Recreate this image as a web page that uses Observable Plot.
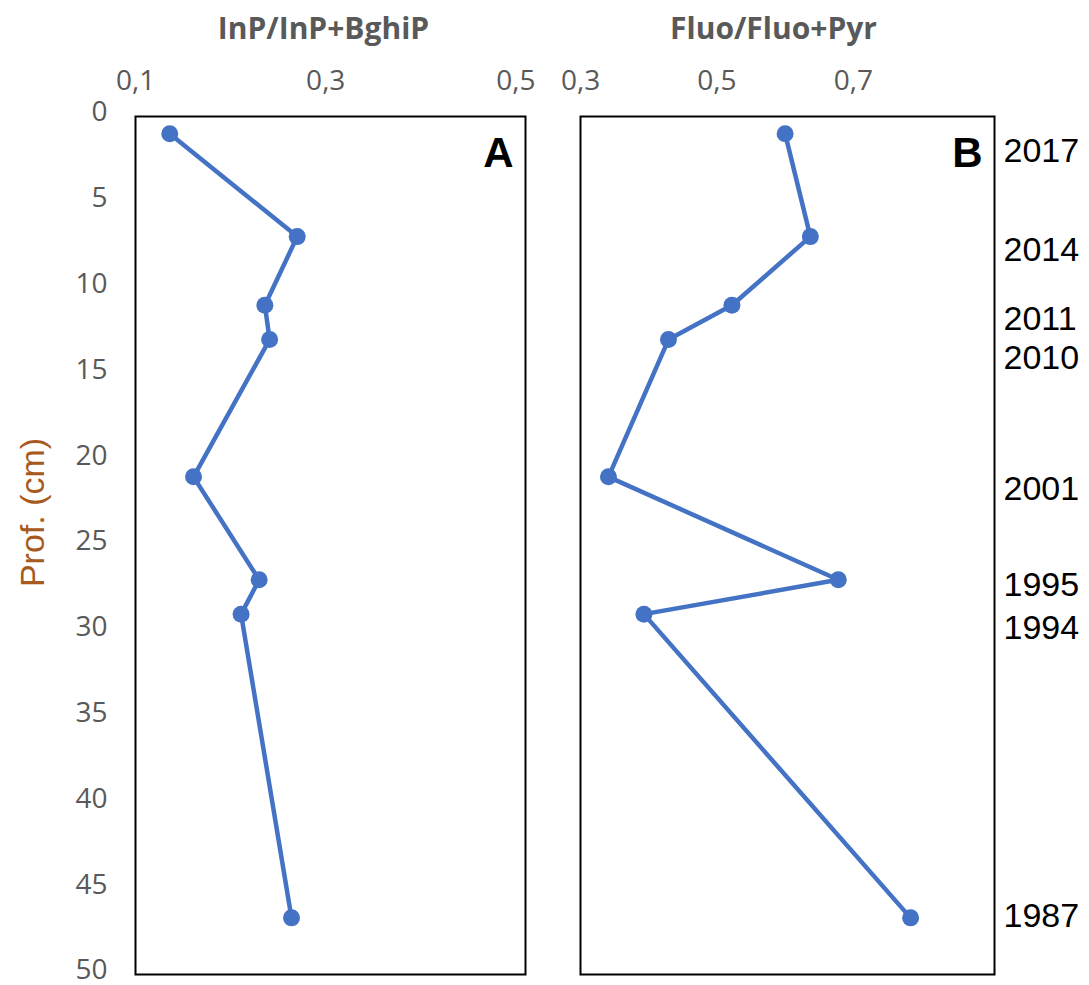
<!DOCTYPE html>
<html><head><meta charset="utf-8">
<script src="https://cdn.jsdelivr.net/npm/d3@7"></script>
<script src="https://cdn.jsdelivr.net/npm/@observablehq/plot@0.6"></script>
<style>
body{margin:0;background:#fff;}
#chart{position:relative;width:1089px;height:985px;background:#fff;}
#chart svg{position:absolute;top:0;}
</style></head><body><div id="chart"></div>
<script>
// ---- data ----
const depth = [1, 7, 11, 13, 21, 27, 29, 46.7];
const inpRatio = [0.136, 0.270, 0.236, 0.241, 0.161, 0.230, 0.211, 0.264];
const fluoRatio = [0.600, 0.637, 0.522, 0.429, 0.341, 0.678, 0.393, 0.784];
const years = ["2017", "2014", "2011", "2010", "2001", "1995", "1994", "1987"];
const yearDepth = [2.0, 7.8, 11.8, 14.1, 21.7, 27.3, 29.8, 46.6];
const depthTicks = [0, 5, 10, 15, 20, 25, 30, 35, 40, 45, 50];
const xTicksA = [0.1, 0.3, 0.5];
const xTicksB = [0.3, 0.5, 0.7];
const titleA = "InP/InP+BghiP";
const titleB = "Fluo/Fluo+Pyr";
const yTitle = "Prof. (cm)";
const panelA = "A";
const panelB = "B";

// ---- build ----
const fmt = d => d.toFixed(1).replace(".", ",");
const dataA = depth.map((d, i) => ({depth: d, value: inpRatio[i]}));
const dataB = depth.map((d, i) => ({depth: d, value: fluoRatio[i]}));
const yearData = years.map((y, i) => ({year: y, depth: yearDepth[i]}));
const BLUE = "#4472C4", GRAY = "#595959";

const common = {
  height: 985, marginTop: 116, marginBottom: 11,
  style: {fontFamily: "Open Sans", fontSize: "28px", background: "transparent", overflow: "visible"}
};

function titleMark(t, dx) {
  return Plot.text([t], {frameAnchor: "top", text: d => d, dx, dy: -78, lineAnchor: "bottom",
    fontSize: 30, fontWeight: "bold", fontFamily: "Open Sans", fill: GRAY});
}
function panelMark(t) {
  return Plot.text([t], {frameAnchor: "top-right", text: d => d, dx: -12, dy: 21, lineAnchor: "top",
    textAnchor: "end", fontSize: 42, fontWeight: "bold", fontFamily: "Liberation Sans", fill: "#000"});
}

const plotA = Plot.plot({
  ...common,
  width: 545, marginLeft: 135, marginRight: 20,
  x: {domain: [0.1, 0.51]},
  y: {domain: [0, 50], reverse: true},
  marks: [
    Plot.axisX(xTicksA, {anchor: "top", tickSize: 0, tickPadding: 27, tickFormat: fmt, label: null, fill: GRAY, color: GRAY}),
    Plot.axisY(depthTicks, {anchor: "left", tickSize: 0, tickPadding: 28, dy: -4, label: null, fill: GRAY, color: GRAY}),
    Plot.frame({stroke: "#000", strokeWidth: 2}),
    Plot.line(dataA, {x: "value", y: "depth", stroke: BLUE, strokeWidth: 4.5}),
    Plot.dot(dataA, {x: "value", y: "depth", r: 8.5, fill: BLUE}),
    panelMark(panelA),
    titleMark(titleA, -7),
    Plot.text([yTitle], {frameAnchor: "left", text: d => d, rotate: -90, dx: -102, dy: -33,
      textAnchor: "middle", lineAnchor: "middle",
      fontSize: 34, fontFamily: "Liberation Sans", fill: "#a65a1f"})
  ]
});
plotA.style.left = "0px";

const plotB = Plot.plot({
  ...common,
  width: 544, marginLeft: 35, marginRight: 95,
  x: {domain: [0.3, 0.907]},
  y: {domain: [0, 50], reverse: true, axis: null},
  marks: [
    Plot.axisX(xTicksB, {anchor: "top", tickSize: 0, tickPadding: 27, tickFormat: fmt, label: null, fill: GRAY, color: GRAY}),
    Plot.frame({stroke: "#000", strokeWidth: 2}),
    Plot.line(dataB, {x: "value", y: "depth", stroke: BLUE, strokeWidth: 4.5}),
    Plot.dot(dataB, {x: "value", y: "depth", r: 8.5, fill: BLUE}),
    panelMark(panelB),
    titleMark(titleB, -14),
    Plot.text(yearData, {y: "depth", text: "year", frameAnchor: "right", dx: 9, textAnchor: "start",
      fontSize: 34, fontFamily: "Liberation Sans", fill: "#000"})
  ]
});
plotB.style.left = "545px";

const chart = document.getElementById("chart");
chart.append(plotA, plotB);
</script></body></html>
